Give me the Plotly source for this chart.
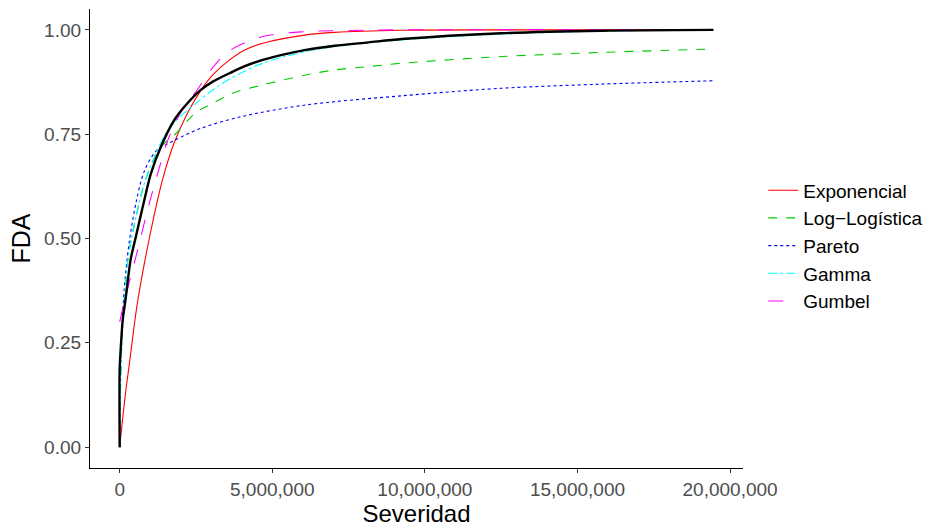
import plotly.graph_objects as go

M = 1_000_000

# Empirical CDF (black)
emp_x = [0, 0, 0.045, 0.1, 0.19, 0.36, 0.53, 0.8, 1.02, 1.35, 1.79, 2.22, 2.66, 3.05, 3.6, 4.1, 4.69, 6.1, 7.05, 8.15, 9.24, 12.5, 15.8, 19.45]
emp_y = [0, 0.186, 0.249, 0.305, 0.353, 0.45, 0.504, 0.59, 0.655, 0.72, 0.784, 0.824, 0.856, 0.876, 0.896, 0.913, 0.928, 0.952, 0.962, 0.970, 0.978, 0.992, 0.998, 1.0]

# Exponencial
exp_x = [0, 0.1, 0.2, 0.3, 0.58, 0.97, 1.4, 1.79, 2.22, 2.66, 3.05, 3.6, 4.1, 4.69, 6.1, 7.05, 9.24, 12.5, 19.45]
exp_y = [0, 0.07, 0.135, 0.19, 0.345, 0.50, 0.64, 0.73, 0.80, 0.855, 0.892, 0.928, 0.952, 0.968, 0.988, 0.994, 0.999, 1.0, 1.0]

# Log-Logística
llog_x = [0, 0.02, 0.05, 0.1, 0.2, 0.31, 0.53, 0.8, 1.13, 1.35, 1.79, 2.5, 3.05, 3.76, 4.69, 6.1, 7.05, 8.15, 9.24, 12.5, 15.8, 19.45]
llog_y = [0, 0.12, 0.21, 0.30, 0.40, 0.47, 0.55, 0.63, 0.692, 0.72, 0.748, 0.802, 0.824, 0.85, 0.868, 0.892, 0.904, 0.912, 0.92, 0.936, 0.946, 0.954]

# Pareto
par_x = [0, 0.02, 0.05, 0.1, 0.14, 0.2, 0.31, 0.53, 0.8, 1.2, 1.79, 2.66, 3.98, 6.1, 9.24, 12.5, 15.8, 19.45]
par_y = [0, 0.15, 0.24, 0.32, 0.37, 0.42, 0.49, 0.584, 0.66, 0.71, 0.735, 0.764, 0.792, 0.82, 0.842, 0.86, 0.87, 0.878]

# Gamma
gam_x = [0, 0.02, 0.05, 0.1, 0.2, 0.31, 0.53, 0.8, 1.35, 1.79, 2.5, 3.05, 3.6, 4.69, 6.1, 7.05, 9.24, 12.5, 15.8, 19.45]
gam_y = [0, 0.10, 0.20, 0.29, 0.40, 0.47, 0.55, 0.63, 0.73, 0.778, 0.824, 0.856, 0.882, 0.92, 0.948, 0.96, 0.976, 0.99, 0.997, 1.0]

# Gumbel
gum_x = [0, 0.14, 0.53, 0.97, 1.3, 1.6, 2.06, 2.5, 3.05, 3.6, 4.69, 6.1, 7.05, 9.24, 19.45]
gum_y = [0.30, 0.345, 0.456, 0.584, 0.67, 0.74, 0.81, 0.852, 0.91, 0.95, 0.984, 0.996, 0.998, 1.0, 1.0]

x_ticks = [0, 5, 10, 15, 20]
y_ticks = [0, 0.25, 0.5, 0.75, 1.0]

series = [
    ("Exponencial", exp_x, exp_y, "#FF0000", "solid"),
    ("Log\u2212Logística", llog_x, llog_y, "#00CD00", "dash"),
    ("Pareto", par_x, par_y, "#0000FF", "dot"),
    ("Gamma", gam_x, gam_y, "#00FFFF", "dashdot"),
    ("Gumbel", gum_x, gum_y, "#FF00FF", "longdash"),
]

fig = go.Figure()
for name, xs, ys, col, dash in series:
    fig.add_trace(go.Scatter(
        x=[v * M for v in xs], y=ys, mode="lines", name=name,
        line=dict(color=col, width=1.1, dash=dash, shape="spline", smoothing=0.9),
    ))

fig.add_trace(go.Scatter(
    x=[v * M for v in emp_x], y=emp_y, mode="lines", name="Empírica",
    line=dict(color="black", width=2.4, shape="spline", smoothing=0.8), showlegend=False,
))

font_family = "Liberation Sans, Arial, sans-serif"
xmax = max(emp_x) * M
pad = xmax * 0.05

fig.update_layout(
    width=942, height=527,
    margin=dict(l=90, r=199, t=9, b=59),
    plot_bgcolor="white", paper_bgcolor="white",
    font=dict(family=font_family, color="black"),
    legend=dict(
        x=1.031, y=0.484, xanchor="left", yanchor="middle",
        font=dict(size=19, color="black", family=font_family),
        bgcolor="rgba(0,0,0,0)", tracegroupgap=0, itemwidth=30,
    ),
    xaxis=dict(
        range=[-pad, xmax + pad], automargin=False,
        tickvals=[v * M for v in x_ticks], tickformat=",",
        showgrid=False, zeroline=False,
        showline=True, linecolor="black", linewidth=1.2,
        ticks="outside", ticklen=4, tickcolor="#333333", tickwidth=1,
        tickfont=dict(size=19, color="#4D4D4D"),
        title=dict(text="Severidad", font=dict(size=24, color="black"), standoff=0),
    ),
    yaxis=dict(
        range=[-0.05, 1.05], automargin=False,
        tickvals=y_ticks, tickformat=".2f",
        showgrid=False, zeroline=False,
        showline=True, linecolor="black", linewidth=1.2,
        ticks="outside", ticklen=4, tickcolor="#333333", tickwidth=1,
        tickfont=dict(size=19, color="#4D4D4D"),
        title=dict(text="FDA", font=dict(size=25, color="black"), standoff=6),
    ),
)

fig.write_html("out.html")
